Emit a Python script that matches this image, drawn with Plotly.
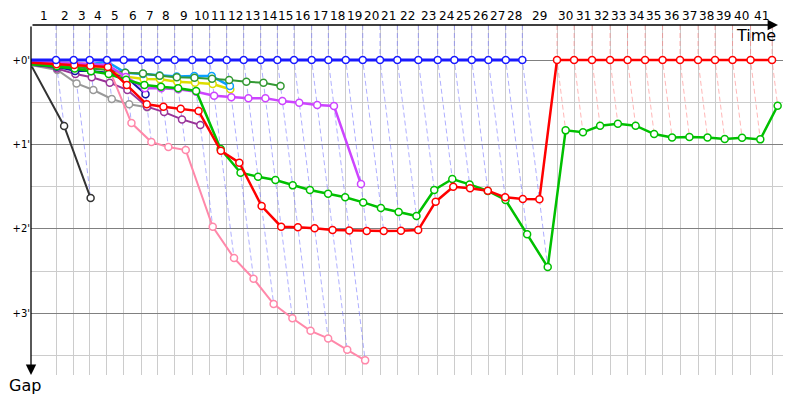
"""Lap chart: gap to the leader at the end of every lap, plotted against race time."""
import plotly.graph_objects as go

LAP_LABELS = [str(i) for i in range(1, 42)]

# leader's race time (s) when finishing each lap, lap 0 = start
LEADER_TIMES = [0, 145, 247.5, 340, 440.5, 537.5, 639.5, 734.5, 833, 935, 1036,
                1134.5, 1233, 1331.5, 1428, 1524.5, 1627, 1723.5, 1824.5, 1923, 2023,
                2123.5, 2245, 2357.5, 2454, 2555, 2651, 2752, 2848, 3049, 3148,
                3252, 3356.5, 3458, 3559.5, 3661, 3762, 3866.5, 3965, 4066.5, 4171,
                4295.5]

# gap to the leader (s) at the end of each lap, starting with lap 0
BLUE_GAPS = [0] * 29
RED_GAPS = [2, 3, 3.5, 4, 5, 17.8, 31.5, 33.2, 34.6, 36.3, 64.5, 73, 103.8, 118.5,
            118.9, 119.6, 120.9, 121.1, 121.6, 121.6, 121.4, 120.9, 100.7, 90.1,
            91.2, 92.9, 97.6, 98.8, 99.0] + [0] * 13
GREEN_GAPS = [3, 4.5, 6, 8, 10, 14, 17.8, 19, 20.1, 22, 63.3, 80.1, 83, 85.3, 89.1,
              92.4, 95, 97.6, 101.2, 105.2, 108, 110.9, 92.4, 84.6, 88.4, 93.1,
              99.5, 123.9, 147.2, 50, 51.4, 46.7, 45.3, 46.7, 52.6, 55, 54.7, 55,
              56.2, 55.2, 56.4, 32.5]
PINK_GAPS = [0, 1.5, 2, 2.5, 3.7, 44.8, 58.3, 61.9, 64, 118.5, 140.8, 155.5, 173.5,
             183.6, 192.5, 197.9, 206, 213.5]
VIOLET_GAPS = [1, 2, 2.5, 3, 3.5, 12, 20.1, 20.1, 20.8, 22.5, 25.4, 26.5, 27.2, 27.2,
               29.2, 30.4, 32, 32.7, 88.2]
SKYBLUE_GAPS = [1.5, 2, 3, 3, 1.2, 9, 10, 11, 11.7, 11.4, 11.4, 18.5]
YELLOW_GAPS = [3, 3.5, 4.5, 5.5, 6.5, 11.8, 13.5, 13.7, 15.4, 16.1, 17.1, 20.8]
DKGREEN_GAPS = [2.5, 4, 5, 6, 7, 9, 9.5, 11.2, 12.3, 12.6, 13.3, 14.2, 15.4, 16.1, 18.5]
NAVY_GAPS = [3.5, 4.8, 7.8, 7.8, 9, 11.9, 24.4]
PURPLE_GAPS = [3, 6, 10, 12.3, 16.1, 21.3, 33.2, 37, 42.2, 46.2]
GRAY_GAPS = [3.8, 7.1, 16.6, 21.3, 27.7, 31.5, 33.6]
BLACK_GAPS = [4.5, 46.9, 98.1]

GAP_TICKS = [0, 60, 120, 180]
GAP_TICK_TEXT = ["+0'", "+1'", "+2'", "+3'"]
HALF_MINUTES = [30, 90, 150, 210]

X_RANGE = [0, 4359]
Y_RANGE = [223.9, -24.9]

# drawing order: last one on top
cars = [
    (BLACK_GAPS, "#333333", 2),
    (GRAY_GAPS, "#999999", 2),
    (PURPLE_GAPS, "#993399", 2),
    (NAVY_GAPS, "#1515a5", 2),
    (PINK_GAPS, "#ff88aa", 2),
    (YELLOW_GAPS, "#dddd00", 2.5),
    (SKYBLUE_GAPS, "#0aa0ff", 2.5),
    (DKGREEN_GAPS, "#339933", 2),
    (VIOLET_GAPS, "#cc44ff", 2.5),
    (GREEN_GAPS, "#00c000", 2.5),
    (RED_GAPS, "#ff0000", 2.5),
    (BLUE_GAPS, "#1a1aff", 3),
]
leader_dash = {"#1a1aff": "rgba(110,110,255,0.55)", "#ff0000": "rgba(255,110,110,0.5)"}

fig = go.Figure()

# dashed line per lap: leader's crossing -> slowest car on that lap
for k in range(1, len(LEADER_TIMES)):
    t = LEADER_TIMES[k]
    on_lap = [(g[k], c) for g, c, _ in cars if len(g) > k]
    worst = max(v for v, _ in on_lap)
    lead_color = min(on_lap, key=lambda p: p[0])[1]
    fig.add_trace(go.Scatter(
        x=[t, t, t + worst], y=[Y_RANGE[1], 0, worst], mode="lines",
        line=dict(color=leader_dash[lead_color], width=1, dash="5px,3px"),
        hoverinfo="skip", showlegend=False))

for gaps, color, width in cars:
    xs = [LEADER_TIMES[k] + g for k, g in enumerate(gaps)]
    fig.add_trace(go.Scatter(
        x=xs, y=gaps, mode="lines+markers",
        line=dict(color=color, width=width),
        marker=dict(symbol="circle", size=7, color="white",
                    line=dict(color=color, width=1.5),
                    opacity=[0] + [1] * (len(gaps) - 1)),
        showlegend=False, cliponaxis=False))

# lap numbers centred on each lap
for k, lab in enumerate(LAP_LABELS, start=1):
    fig.add_annotation(x=(LEADER_TIMES[k - 1] + LEADER_TIMES[k]) / 2, y=1, yref="paper",
                       text=lab, showarrow=False, yanchor="bottom",
                       font=dict(size=12, color="black"))

# axis arrows
fig.add_annotation(x=4330, y=Y_RANGE[1], ax=X_RANGE[0], ay=Y_RANGE[1],
                   axref="x", ayref="y", text="", showarrow=True,
                   arrowhead=2, arrowsize=1.6, arrowwidth=1.3, arrowcolor="black")
fig.add_annotation(x=X_RANGE[0], y=Y_RANGE[0], ax=X_RANGE[0], ay=Y_RANGE[1],
                   axref="x", ayref="y", text="", showarrow=True,
                   arrowhead=2, arrowsize=1.6, arrowwidth=1.3, arrowcolor="black")
fig.add_annotation(x=0.993, y=0.97, xref="paper", yref="paper", text="Time",
                   showarrow=False, xanchor="right", yanchor="middle",
                   font=dict(size=16, color="black"))
fig.add_annotation(x=-0.008, y=-0.029, xref="paper", yref="paper", text="Gap",
                   showarrow=False, xanchor="center", yanchor="middle",
                   font=dict(size=16, color="black"))

fig.update_xaxes(range=X_RANGE, tickvals=LEADER_TIMES[1:], showticklabels=False,
                 showgrid=True, gridcolor="#cccccc", gridwidth=1, zeroline=False,
                 showline=False, ticks="", automargin=False)
fig.update_yaxes(range=Y_RANGE, tickvals=GAP_TICKS, ticktext=GAP_TICK_TEXT,
                 showgrid=True, gridcolor="#808080", gridwidth=1, zeroline=False,
                 showline=False, ticks="", tickfont=dict(size=10, color="black"),
                 automargin=False,
                 minor=dict(tickvals=HALF_MINUTES, showgrid=True, gridcolor="#cccccc",
                            gridwidth=1))

# the page body adds an 8px margin, so the figure is sized to fit what is left
fig.update_layout(
    width=792, height=392,
    margin=dict(l=23, r=17, t=17, b=25, autoexpand=False),
    plot_bgcolor="white", paper_bgcolor="white",
    font=dict(family="DejaVu Sans, Verdana, sans-serif", color="black"),
    showlegend=False,
)

fig.write_html("out.html")
